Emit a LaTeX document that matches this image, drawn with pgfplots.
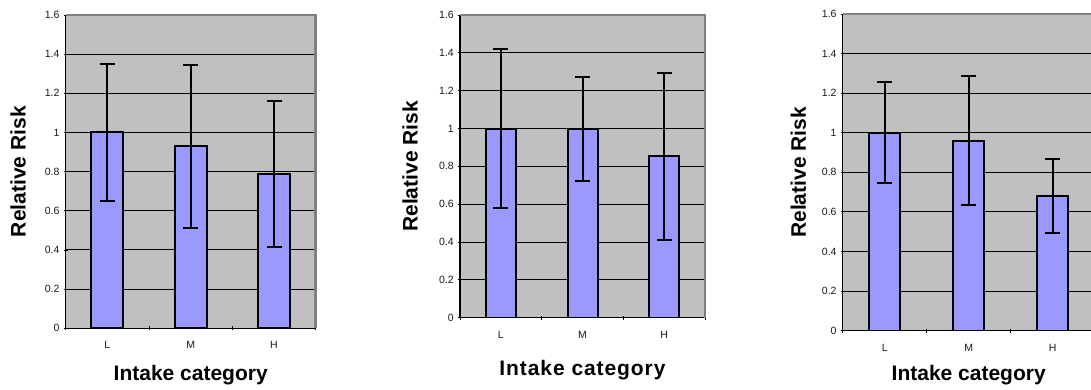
\documentclass[border=0pt]{standalone}
\usepackage{fontspec}
\setmainfont{Liberation Sans}
\usepackage{pgfplots}
\pgfplotsset{compat=1.18}
\usepackage{pgfplotstable}
\definecolor{bggray}{HTML}{C0C0C0}
\definecolor{barblue}{HTML}{9999FF}
\definecolor{framegray}{HTML}{808080}

\pgfplotstableread{
x y ep em
1 1.00 0.350 0.350
2 0.93 0.415 0.420
3 0.79 0.370 0.375
}\dataA
\pgfplotstableread{
x y ep em
1 1.000 0.420 0.420
2 1.000 0.272 0.275
3 0.855 0.440 0.445
}\dataB
\pgfplotstableread{
x y ep em
1 1.00 0.255 0.255
2 0.96 0.327 0.323
3 0.68 0.189 0.185
}\dataC

\pgfplotsset{rrstyle/.style={
  scale only axis, anchor=south west,
  xmin=0.5, xmax=3.5, ymin=0, ymax=1.6,
  ytick={0,0.2,0.4,0.6,0.8,1,1.2,1.4,1.6},
  xtick={0.5,1.5,2.5,3.5}, xticklabels={},
  extra x ticks={1,2,3}, extra x tick labels={L,M,H},
  extra x tick style={major tick length=0pt, grid=none,
    xticklabel style={inner sep=0pt, yshift=-13pt, font=\fontsize{10.5}{11}\selectfont}},
  tick align=outside, major tick length=4pt,
  tick style={black, line width=0.9pt},
  ymajorgrids, grid style={black, line width=1pt},
  axis x line=bottom, axis y line=left,
  axis line style={-, black, line width=1.5pt},
  axis background/.style={fill=bggray},
  /pgf/number format/assume math mode=true,
  ticklabel style={font=\fontsize{10.5}{11}\selectfont, text=black!90},
  yticklabel style={inner sep=0pt, xshift=-4pt},
  xlabel={Intake category}, ylabel={Relative Risk},
  label style={font=\fontsize{21}{24}\selectfont\bfseries},
  after end axis/.code={\draw[framegray, line width=2.5pt] (rel axis cs:0,1) -- (rel axis cs:1,1) -- (rel axis cs:1,0);},
}}
\pgfplotsset{rrbar/.style={
  ybar, bar shift=0pt, fill=barblue, draw=black, line width=2pt,
  error bars/.cd, y dir=both, y explicit,
  error bar style={line width=2pt, black},
  error mark options={rotate=90, line width=2pt, mark size=7.5pt, black}
}}

\begin{document}
\begin{tikzpicture}
\begin{axis}[rrstyle, at={(65.7pt,61.7pt)}, width=250pt, height=313.3pt,
  xlabel style={at={(axis description cs:0.5,-0.149)}, anchor=center},
  ylabel style={at={(axis description cs:-0.19,0.5)}, anchor=center}]
\addplot[bar width=32pt, rrbar] table[x=x, y=y, y error plus=ep, y error minus=em]{\dataA};
\end{axis}
\begin{axis}[rrstyle, at={(460pt,72.3pt)}, width=245pt, height=302.7pt,
  xlabel style={at={(axis description cs:0.5,-0.173)}, anchor=center, font=\fontsize{21}{24}\selectfont\bfseries\addfontfeature{LetterSpace=4.4}},
  ylabel style={at={(axis description cs:-0.204,0.5)}, anchor=center}]
\addplot[bar width=30pt, rrbar] table[x=x, y=y, y error plus=ep, y error minus=em]{\dataB};
\end{axis}
\begin{axis}[rrstyle, at={(842.7pt,59.3pt)}, width=252pt, height=316.7pt,
  xlabel style={at={(axis description cs:0.5,-0.140)}, anchor=center},
  ylabel style={at={(axis description cs:-0.176,0.5)}, anchor=center}]
\addplot[bar width=31.5pt, rrbar] table[x=x, y=y, y error plus=ep, y error minus=em]{\dataC};
\end{axis}
\pgfresetboundingbox
\path[use as bounding box] (0,0) rectangle (1091pt,390pt);
\end{tikzpicture}
\end{document}
